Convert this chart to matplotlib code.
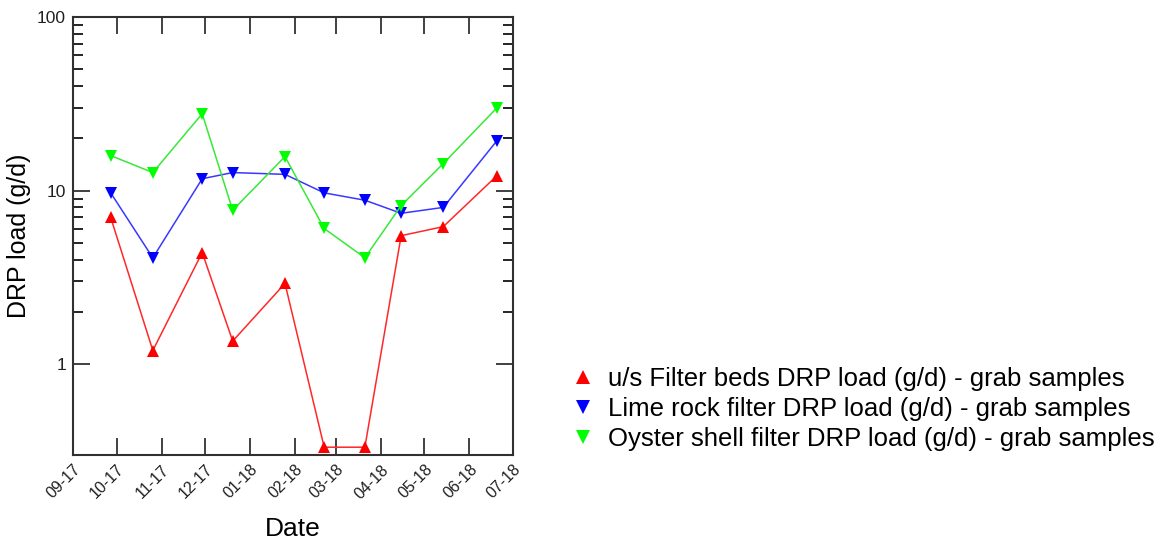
import matplotlib
matplotlib.use("Agg")
import matplotlib.pyplot as plt
from matplotlib.lines import Line2D
from matplotlib.ticker import FixedLocator, NullFormatter, FixedFormatter
import pandas as pd

plt.rcParams['font.family'] = ['Liberation Sans', 'DejaVu Sans']

# sampling dates and loads (g/d)
dates = pd.to_datetime(['2017-09-27', '2017-10-26', '2017-11-29', '2017-12-20',
                        '2018-01-25', '2018-02-21', '2018-03-21', '2018-04-15',
                        '2018-05-14', '2018-06-20'])
filter_beds = [7.0, 1.2, 4.4, 1.36, 2.92, 0.333, 0.333, 5.5, 6.2, 12.2]
lime_rock = [9.7, 4.1, 11.7, 12.7, 12.4, 9.7, 8.8, 7.4, 8.0, 19.4]
oyster_shell = [15.9, 12.7, 27.7, 7.7, 15.7, 6.05, 4.1, 8.2, 14.3, 30.0]

month_ticks = pd.date_range('2017-09-01', '2018-07-01', freq='MS')
month_labels = [d.strftime('%m-%y') for d in month_ticks]

labels = ['u/s Filter beds DRP load (g/d) - grab samples',
          'Lime rock filter DRP load (g/d) - grab samples',
          'Oyster shell filter DRP load (g/d) - grab samples']

fig = plt.figure(figsize=(11.58, 5.45), dpi=100)
ax = fig.add_axes([0.063, 0.165, 0.38, 0.804])

ax.plot(dates, filter_beds, color='#ff2828', lw=1.1, marker='^', ms=8,
        markeredgewidth=0, markerfacecolor='#ff0000')
ax.plot(dates, lime_rock, color='#3838ff', lw=1.1, marker='v', ms=8,
        markeredgewidth=0, markerfacecolor='#0000ff')
ax.plot(dates, oyster_shell, color='#38e838', lw=1.1, marker='v', ms=8,
        markeredgewidth=0, markerfacecolor='#00ff00')

ax.set_yscale('log')
ax.set_ylim(0.3, 100)
ax.set_xlim(month_ticks[0], month_ticks[-1])

ax.yaxis.set_major_locator(FixedLocator([1, 10, 100]))
ax.yaxis.set_major_formatter(FixedFormatter(['1', '10', '100']))
ax.yaxis.set_minor_locator(FixedLocator([m * d for d in (1, 10) for m in range(2, 10)]))
ax.yaxis.set_minor_formatter(NullFormatter())

ax.set_xticks(month_ticks)
ax.set_xticklabels(month_labels, rotation=45, ha='right', rotation_mode='anchor')
ax.xaxis.set_minor_locator(FixedLocator([]))

ax.tick_params(axis='both', which='major', direction='in', length=12, width=1.2,
               top=True, right=True, labelsize=12.5, colors='#202020', pad=5)
ax.tick_params(axis='y', which='minor', direction='in', length=7, width=1.2,
               left=True, right=True)
ax.tick_params(axis='x', which='major', pad=5, labelsize=11.5)
for sp in ax.spines.values():
    sp.set_linewidth(1.5)
    sp.set_color('#303030')

ax.set_ylabel('DRP load (g/d)', fontsize=18, labelpad=4)
ax.set_xlabel('Date', fontsize=19, labelpad=11)

handles = [Line2D([], [], ls='none', marker='^', ms=10, mew=0, mfc='#ff0000'),
           Line2D([], [], ls='none', marker='v', ms=10, mew=0, mfc='#0000ff'),
           Line2D([], [], ls='none', marker='v', ms=10, mew=0, mfc='#00ff00')]
fig.legend(handles, labels, loc='upper left', bbox_to_anchor=(0.486, 0.345),
           frameon=False, fontsize=18.5, handlelength=0.8, handletextpad=0.55,
           labelspacing=0.23, borderaxespad=0)

fig.savefig('out.png', dpi=100)
